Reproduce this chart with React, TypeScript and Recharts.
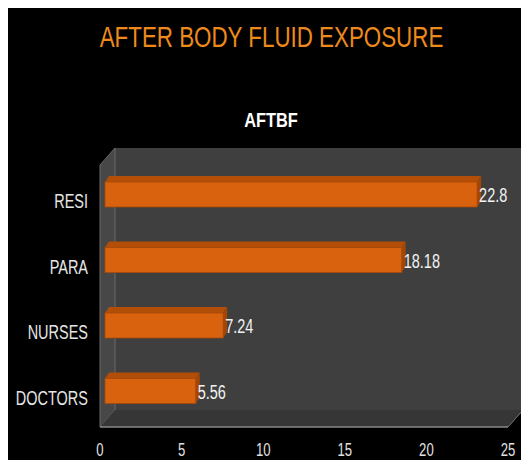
import { BarChart, Bar, XAxis, YAxis, CartesianGrid, LabelList, ReferenceArea } from 'recharts';

const categories = ['RESI', 'PARA', 'NURSES', 'DOCTORS'];
const values = [22.8, 18.18, 7.24, 5.56];
const xTicks = [0, 5, 10, 15, 20, 25];

const data = categories.map((name, i) => ({ name, value: values[i] }));

const FONT = "'Liberation Sans', Arial, sans-serif";
const SQUISH = 0.69;
// depth offsets for the fake 3d box
const BACK = { dx: 10, dy: -11 };
const FRONT = { dx: -5, dy: 6 };
const DEPTH_BAR = { dx: 4, dy: 6 };

const Box = (props: any) => {
  const { x, y, width: w, height: h } = props;
  const bx = x + BACK.dx, by = y + BACK.dy;
  const fx = x + FRONT.dx, fy = y + FRONT.dy;
  return (
    <g>
      <rect x={bx} y={by} width={w} height={h} fill="#3f3f3f" />
      <polygon points={`${fx},${fy} ${bx},${by} ${bx},${by + h} ${fx},${fy + h}`} fill="#474747" stroke="#6a6a6a" strokeWidth={1} />
      <polygon points={`${fx},${fy + h} ${bx},${by + h} ${bx + w},${by + h} ${fx + w},${fy + h}`} fill="#363636" />
      <line x1={bx + w} y1={by + h} x2={fx + w} y2={fy + h} stroke="#6a6a6a" />
      <line x1={fx} y1={fy + h} x2={fx + w} y2={fy + h} stroke="#8a8a8a" strokeWidth={1.5} />
    </g>
  );
};

const GridLine = (props: any) => {
  const { x1, y1, y2 } = props;
  return (
    <g key={props.key}>
      <line x1={x1 + BACK.dx} y1={y1 + BACK.dy} x2={x1 + BACK.dx} y2={y2 + BACK.dy} stroke="#6e6e6e" strokeWidth={1} />
      <line x1={x1 + BACK.dx} y1={y2 + BACK.dy} x2={x1 + FRONT.dx} y2={y2 + FRONT.dy} stroke="#5c5c5c" strokeWidth={1} />
    </g>
  );
};

const Bar3D = (props: any) => {
  const { x, y, width: w, height: h } = props;
  const d = DEPTH_BAR;
  return (
    <g>
      <polygon points={`${x},${y + d.dy} ${x + d.dx},${y} ${x + w + d.dx},${y} ${x + w},${y + d.dy}`} fill="#b24e08" />
      <polygon points={`${x + w},${y + d.dy} ${x + w + d.dx},${y} ${x + w + d.dx},${y + h - d.dy} ${x + w},${y + h}`} fill="#a44606" />
      <rect x={x} y={y + d.dy} width={w} height={h - d.dy} fill="#d9620f" stroke="#a84a08" strokeWidth={0.8} />
    </g>
  );
};

const CatTick = (props: any) => {
  const { x, y, payload } = props;
  return (
    <text transform={`translate(${x - 9},${y + 16.5}) scale(${SQUISH},1)`} textAnchor="end" fill="#e6e6e6" fontSize={21} fontFamily={FONT}>
      {payload.value}
    </text>
  );
};

const XTick = (props: any) => {
  const { x, y, payload } = props;
  return (
    <text transform={`translate(${x + FRONT.dx},${y + 26.5}) scale(${SQUISH},1)`} textAnchor="middle" fill="#e0e0e0" fontSize={19} fontFamily={FONT}>
      {payload.value}
    </text>
  );
};

const ValueLabel = (props: any) => {
  const { x, y, width, height, value } = props;
  const cy = y + DEPTH_BAR.dy + (height - DEPTH_BAR.dy) / 2;
  return (
    <text transform={`translate(${x + width + 2},${cy + 7.5}) scale(${SQUISH},1)`} fill="#f2f2f2" fontSize={21} fontFamily={FONT}>
      {value}
    </text>
  );
};

export default function App() {
  return (
    <div style={{ position: 'relative', width: 521, height: 452, background: '#000', overflow: 'hidden' }}>
      <div style={{ position: 'absolute', left: 0, width: 527, top: 11, textAlign: 'center', color: '#ee8a1c', fontFamily: FONT, fontSize: 30, lineHeight: '36px', transform: 'scaleX(0.745)' }}>
        AFTER BODY FLUID EXPOSURE
      </div>
      <div style={{ position: 'absolute', left: 0, width: 526, top: 100, textAlign: 'center', color: '#ffffff', fontFamily: FONT, fontSize: 21, fontWeight: 700, lineHeight: '24px', transform: 'scaleX(0.78)' }}>
        AFTBF
      </div>
      <div style={{ position: 'absolute', left: 514, top: 16, width: 5, height: 42, background: '#f08a12', border: '1px solid #8a4a06' }} />
      <BarChart width={521} height={452} layout="vertical" data={data} margin={{ top: 151, right: 16, bottom: 9, left: 5 }} barSize={31}>
        <ReferenceArea x1={0} x2={25} shape={<Box />} ifOverflow="visible" />
        <CartesianGrid horizontal={false} vertical={GridLine} />
        <XAxis type="number" domain={[0, 25]} ticks={xTicks} axisLine={false} tickLine={false} tick={<XTick />} height={30} interval={0} />
        <YAxis type="category" dataKey="name" axisLine={false} tickLine={false} tick={<CatTick />} width={92} />
        <Bar dataKey="value" shape={<Bar3D />} isAnimationActive={false}>
          <LabelList dataKey="value" content={<ValueLabel />} />
        </Bar>
      </BarChart>
    </div>
  );
}
